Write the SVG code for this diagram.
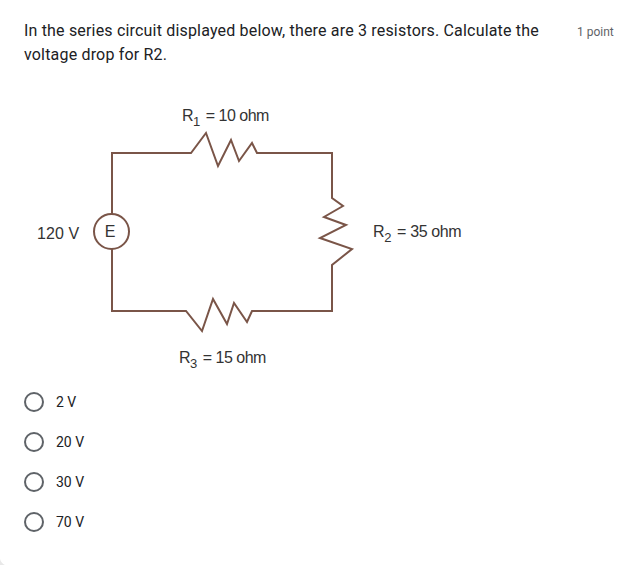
<svg xmlns="http://www.w3.org/2000/svg" width="626" height="565" viewBox="0 0 626 565">
<style>
.q{font-family:Roboto,"Liberation Sans",sans-serif;font-size:16px;fill:#202124;letter-spacing:.18px}
.p{font-family:Roboto,"Liberation Sans",sans-serif;font-size:12px;fill:#5f6368}
.o{font-family:Roboto,"Liberation Sans",sans-serif;font-size:14px;fill:#202124}
.l{font-family:"Liberation Sans",Arial,sans-serif;font-size:16px;fill:#333;letter-spacing:-.5px}
.s{font-size:13px}
.w{fill:none;stroke:#7a5548;stroke-width:2;stroke-linejoin:miter}
.r{fill:#fff;stroke:#5f6368;stroke-width:2}
</style>
<rect width="626" height="565" fill="#fff"/>
<path d="M0 559Q1 563 5 565H0Z" fill="#e8e8e8"/>
<g id="question">
<text class="q" x="24" y="36">In the series circuit displayed below, there are 3 resistors. Calculate the</text>
<text class="q" x="24" y="60">voltage drop for R2.</text>
<text class="p" x="577" y="36">1 point</text>
</g>
<g id="connectors">
<path class="w" d="M112 214V153H191L206 133L218 166L231 140L239 161L252 143L257 153H332V198L343 206L324 217L346 225L320 238L352 249L332 265V311H252L247 322L234 303L227 324L213 299L202 331L186 311H112V249"/>
</g>
<g id="source">
<circle class="w" cx="111.5" cy="231.5" r="17.5" fill="#fff"/>
<text class="l" x="110" y="237" text-anchor="middle" style="letter-spacing:0">E</text>
<text class="l" x="37" y="239" style="letter-spacing:.1px">120 V</text>
</g>
<g id="r1"><text class="l" x="182" y="121">R<tspan class="s" dy="5">1</tspan><tspan dy="-5" dx="2"> = 10 ohm</tspan></text></g>
<g id="r2"><text class="l" x="373" y="237" style="letter-spacing:-.38px">R<tspan class="s" dy="5">2</tspan><tspan dy="-5" dx="2"> = 35 ohm</tspan></text></g>
<g id="r3"><text class="l" x="179" y="363">R<tspan class="s" dy="5">3</tspan><tspan dy="-5" dx="2"> = 15 ohm</tspan></text></g>
<g id="opt1"><circle class="r" cx="34" cy="402" r="9"/><text class="o" x="56" y="407">2 V</text></g>
<g id="opt2"><circle class="r" cx="34" cy="442" r="9"/><text class="o" x="56" y="447">20 V</text></g>
<g id="opt3"><circle class="r" cx="34" cy="482" r="9"/><text class="o" x="56" y="487">30 V</text></g>
<g id="opt4"><circle class="r" cx="34" cy="522" r="9"/><text class="o" x="56" y="527">70 V</text></g>
</svg>
